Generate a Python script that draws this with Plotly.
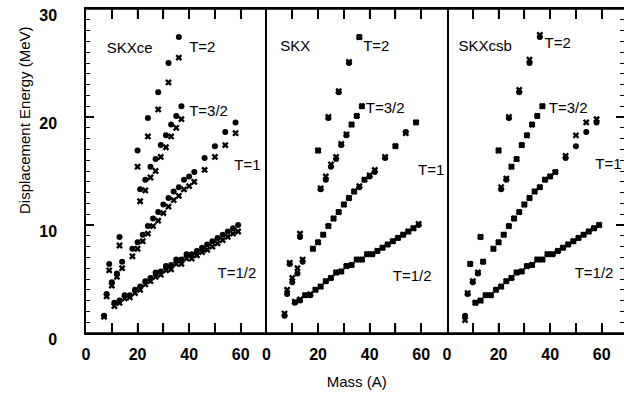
import plotly.graph_objects as go

# ---------------- data ----------------
A_half = [7, 11, 13, 15, 17, 19, 21, 23, 25, 27, 29, 31, 33, 35, 37, 39, 41, 43, 45, 47, 49, 51, 53, 55, 57, 59]
A_one = [8, 10, 12, 14, 18, 20, 22, 24, 26, 28, 30, 32, 34, 36, 38, 40, 42, 46, 50, 54, 58]
A_3half = [9, 13, 21, 23, 25, 27, 29, 31, 33, 35, 37]
A_two = [20, 24, 28, 32, 36]

exp_half = [1.6, 2.8, 3.0, 3.5, 3.5, 4.0, 4.3, 4.8, 5.1, 5.6, 5.7, 6.2, 6.3, 6.8, 6.8, 7.3, 7.3, 7.6, 7.9, 8.2, 8.5, 8.8, 9.1, 9.4, 9.7, 10.0]
exp_one = [3.6, 4.7, 5.5, 6.6, 7.8, 8.4, 9.1, 9.9, 10.6, 11.2, 11.9, 12.5, 13.1, 13.5, 14.2, 14.5, 14.9, 16.2, 17.3, 18.6, 19.5]
exp_3half = [6.4, 8.9, 13.3, 14.2, 15.4, 16.1, 17.4, 18.3, 19.3, 20.1, 21.0]
exp_two = [16.9, 19.9, 22.3, 25.0, 27.4]

# SKXce (crosses, panel 1)
ce_half = [1.5, 2.5, 2.8, 3.2, 3.3, 3.7, 4.0, 4.5, 4.8, 5.2, 5.4, 5.8, 5.9, 6.4, 6.4, 6.9, 6.9, 7.2, 7.5, 7.7, 8.0, 8.3, 8.6, 8.9, 9.2, 9.4]
ce_one = [3.4, 4.4, 5.2, 6.0, 7.1, 7.8, 8.5, 9.2, 9.9, 10.4, 11.1, 11.7, 12.3, 12.7, 13.3, 13.6, 14.0, 15.1, 16.3, 17.4, 18.5]
ce_3half = [5.8, 8.1, 12.2, 13.2, 14.4, 15.0, 16.3, 17.2, 18.2, 19.0, 19.8]
ce_two = [15.4, 18.2, 20.7, 23.2, 25.5]

# SKX (crosses, panel 2)
skx_half = [1.8, 2.9, 3.1, 3.5, 3.6, 4.0, 4.3, 4.8, 5.1, 5.6, 5.7, 6.2, 6.3, 6.8, 6.8, 7.3, 7.3, 7.6, 7.9, 8.2, 8.5, 8.8, 9.1, 9.4, 9.7, 10.1]
skx_one = [4.0, 5.1, 6.0, 6.8, 7.8, 8.4, 9.1, 9.9, 10.6, 11.2, 11.9, 12.5, 13.1, 13.6, 14.2, 14.6, 15.1, 16.3, 17.3, 18.5, 19.5]
skx_3half = [6.5, 9.2, 13.4, 14.5, 15.6, 16.3, 17.5, 18.4, 19.3, 20.1, 21.0]
skx_two = [16.9, 20.0, 22.4, 25.1, 27.4]

# SKXcsb (crosses, panel 3)
csb_half = [1.2, 2.8, 3.0, 3.5, 3.5, 4.0, 4.3, 4.8, 5.1, 5.6, 5.7, 6.2, 6.3, 6.8, 6.8, 7.3, 7.3, 7.6, 7.9, 8.2, 8.5, 8.8, 9.1, 9.4, 9.7, 10.0]
csb_one = [3.7, 4.8, 5.6, 6.6, 7.8, 8.4, 9.1, 9.9, 10.6, 11.2, 11.9, 12.5, 13.1, 13.5, 14.2, 14.5, 14.9, 16.4, 18.3, 19.5, 19.8]
csb_3half = [6.4, 8.9, 13.5, 14.3, 15.4, 16.1, 17.4, 18.3, 19.3, 20.1, 21.0]
csb_two = [16.9, 20.0, 22.5, 25.3, 27.6]

panel_names = ["SKXce", "SKX", "SKXcsb"]
T_labels = ["T=2", "T=3/2", "T=1", "T=1/2"]
x_ticks = [0, 10, 20, 30, 40, 50, 60]
x_ticktext = ["0", "", "20", "", "40", "", "60"]
y_ticks = [0, 10, 20, 30]

# ---------------- figure ----------------
FONT = "Liberation Sans, Arial, sans-serif"
fig = go.Figure()

A_sets = [A_two, A_3half, A_one, A_half]
exp_sets = [exp_two, exp_3half, exp_one, exp_half]
calc_sets = [
    [ce_two, ce_3half, ce_one, ce_half],
    [skx_two, skx_3half, skx_one, skx_half],
    [csb_two, csb_3half, csb_one, csb_half],
]

# label anchor positions (data coords of left edge): panel name, T=2, T=3/2, T=1, T=1/2
label_x = [
    [8.0, 40.0, 40.0, 57.5, 51.0],
    [5.3, 37.5, 38.5, 58.8, 49.0],
    [4.5, 37.8, 39.5, 57.5, 49.5],
]
label_y = [
    [26.3, 26.4, 20.4, 15.4, 5.4],
    [26.5, 26.5, 20.7, 15.0, 5.2],
    [26.5, 26.7, 20.7, 15.5, 5.4],
]

for p in range(3):
    xa = "x" if p == 0 else f"x{p+1}"
    ya = "y" if p == 0 else f"y{p+1}"
    for A, e, c in zip(A_sets, exp_sets, calc_sets[p]):
        fig.add_trace(go.Scatter(x=A, y=e, mode="markers", xaxis=xa, yaxis=ya,
                                 marker=dict(symbol="circle", size=6, color="black"),
                                 showlegend=False))
        fig.add_trace(go.Scatter(x=A, y=c, mode="markers", xaxis=xa, yaxis=ya,
                                 marker=dict(symbol="x", size=6, color="black"),
                                 showlegend=False))
    fig.add_trace(go.Scatter(x=label_x[p], y=label_y[p], mode="text",
                             text=[panel_names[p]] + T_labels, textposition="middle right",
                             xaxis=xa, yaxis=ya, cliponaxis=False, showlegend=False,
                             textfont=dict(family=FONT, size=15, color="black")))

# panel geometry (plot area 86..624 px)
W = 180.5 / 538.0
doms = [[0, W], [W, 2 * W], [2 * W, 1.0]]
ranges = [[0, 70], [0, 70], [0, 70 * (1 - 2 * W) / W]]

xbase = dict(showgrid=False, zeroline=False, showline=True, linecolor="black", linewidth=1.5,
             tickmode="array", tickvals=x_ticks, ticktext=x_ticktext, automargin=False,
             ticks="inside", ticklen=10, tickwidth=1.5, tickcolor="black", mirror="ticks",
             ticklabelstandoff=6,
             tickfont=dict(family=FONT, size=16, color="black", weight="bold"))
for p in range(3):
    key = "xaxis" if p == 0 else f"xaxis{p+1}"
    fig.layout[key] = dict(xbase, domain=doms[p], range=ranges[p],
                           anchor="y" if p == 0 else f"y{p+1}")
fig.layout["xaxis2"].title = dict(text="Mass (A)", standoff=15,
                                  font=dict(family=FONT, size=15, color="black"))

fig.layout["yaxis"] = dict(
    showgrid=False, zeroline=False, showline=True, linecolor="black", linewidth=1.5,
    domain=[0, 1], range=[0, 30], anchor="x", mirror=False, automargin=False,
    tickmode="array", tickvals=y_ticks, ticks="inside", ticklen=8, tickwidth=1.5,
    tickcolor="black", ticklabelstandoff=24, ticklabelshift=6,
    minor=dict(dtick=1, ticks="inside", ticklen=4, tickwidth=1.2, tickcolor="black"),
    tickfont=dict(family=FONT, size=16, color="black", weight="bold"),
)
fig.layout["yaxis2"] = dict(
    showgrid=False, zeroline=False, showline=True, linecolor="black", linewidth=1.5,
    domain=[0, 1], range=[0, 30], anchor="x2", mirror=True, ticks="", showticklabels=False,
    automargin=False,
)
fig.layout["yaxis3"] = dict(
    showgrid=False, zeroline=False, showline=False, domain=[0, 1], range=[0, 30],
    anchor="x3", side="right", tickmode="array", tickvals=y_ticks, ticks="inside",
    ticklen=8, tickwidth=1.5, tickcolor="black", showticklabels=False, automargin=False,
    minor=dict(dtick=1, ticks="inside", ticklen=4, tickwidth=1.2, tickcolor="black"),
)

# frame lines and x tick marks as shapes (fallback so the frame always shows)
line_style = dict(color="black", width=1.5)
for yv in (0, 1):
    fig.add_shape(type="line", xref="paper", yref="paper", x0=0, x1=1, y0=yv, y1=yv,
                  line=line_style, layer="above")
TICK_FRAC = 10 / 324.0
for p in range(3):
    xa = "x" if p == 0 else f"x{p+1}"
    ya = "y" if p == 0 else f"y{p+1}"
    for tv in x_ticks[1:]:
        fig.add_shape(type="line", xref=xa, yref=f"{ya} domain", x0=tv, x1=tv,
                      y0=0, y1=TICK_FRAC, line=line_style, layer="above")
        fig.add_shape(type="line", xref=xa, yref=f"{ya} domain", x0=tv, x1=tv,
                      y0=1, y1=1 - TICK_FRAC, line=line_style, layer="above")

fig.add_annotation(x=0, xref="paper", xshift=-61, y=(333 - 120) / 324.0, yref="paper",
                   text="Displacement Energy (MeV)", showarrow=False, textangle=-90,
                   xanchor="center", yanchor="middle",
                   font=dict(family=FONT, size=15, color="black"))

fig.update_layout(width=624, height=395, margin=dict(l=86, r=0, t=9, b=62),
                  paper_bgcolor="white", plot_bgcolor="white")

fig.write_html("out.html")
